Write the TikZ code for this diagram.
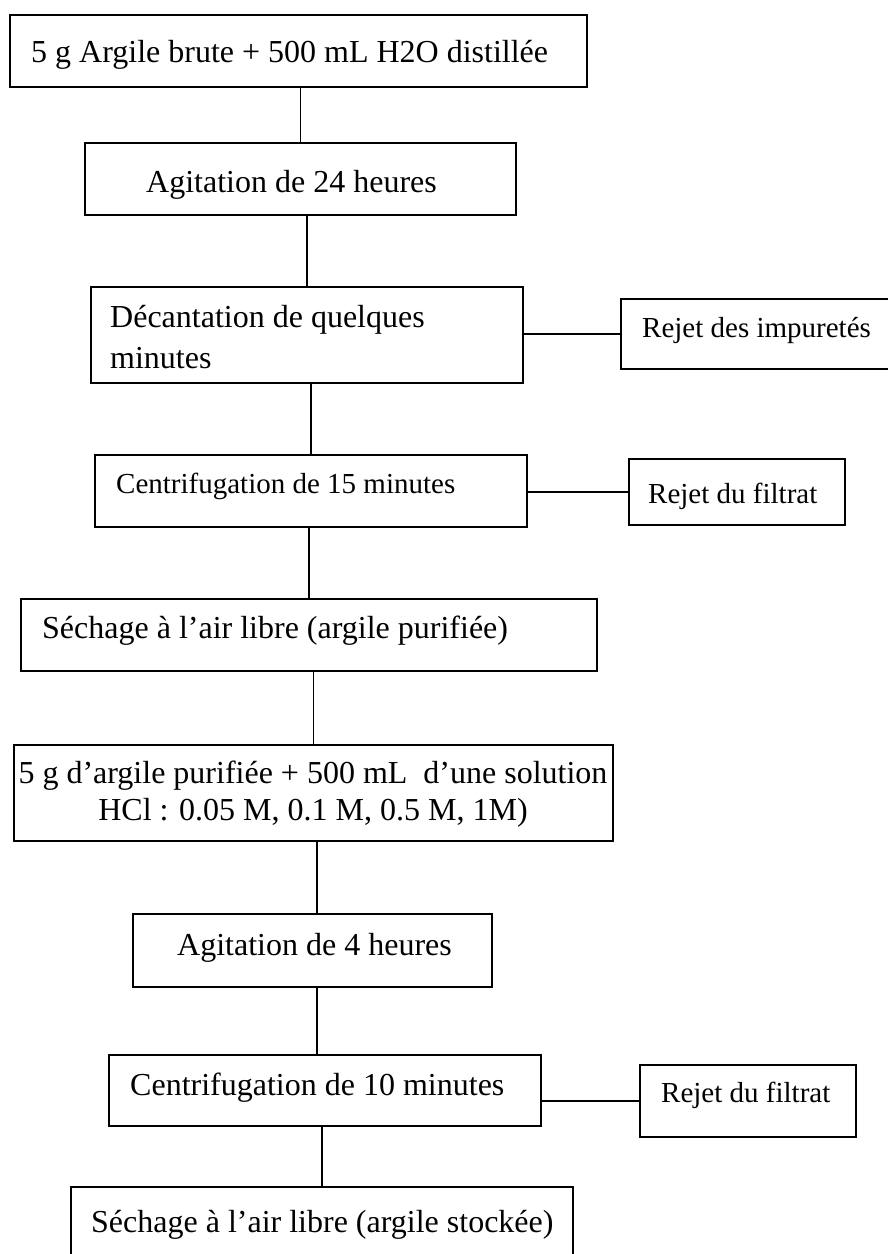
\documentclass[tikz,border=0pt]{standalone}
\usepackage{fontspec}
\setmainfont{Liberation Serif}
\begin{document}
\begin{tikzpicture}[x=1pt,y=-1pt,
  stepbox/.style={draw, line width=2.2pt, inner sep=0pt},
  big/.style={font=\fontsize{32}{41}\selectfont, inner sep=0pt, anchor=base west},
  small/.style={font=\fontsize{29}{37}\selectfont, inner sep=0pt, anchor=base west},
  link/.style={line width=1.5pt}]
\useasboundingbox (0,0) rectangle (888,1254);
\clip (0,0) rectangle (888,1254);

% main column of steps (centre, width, height)
\node[stepbox, minimum width=577pt, minimum height=72pt] (B1) at (298.5,51) {};
\node[stepbox, minimum width=431pt, minimum height=72pt] (B2) at (300.5,179) {};
\node[stepbox, minimum width=432pt, minimum height=96pt] (B3) at (307,335) {};
\node[stepbox, minimum width=432pt, minimum height=72pt] (B4) at (311,491) {};
\node[stepbox, minimum width=576pt, minimum height=72pt] (B5) at (309,635) {};
\node[stepbox, minimum width=599pt, minimum height=96pt] (B6) at (313.5,793) {};
\node[stepbox, minimum width=359pt, minimum height=73pt] (B7) at (312.5,950.5) {};
\node[stepbox, minimum width=432pt, minimum height=71pt] (B8) at (325,1090.5) {};
\node[stepbox, minimum width=502pt, minimum height=100pt] (B9) at (322,1237) {};

% side boxes for discarded fractions
\node[stepbox, minimum width=274pt, minimum height=70pt] (R1) at (758,334) {};
\node[stepbox, minimum width=216pt, minimum height=66pt] (R2) at (737,492) {};
\node[stepbox, minimum width=216pt, minimum height=72pt] (R3) at (748,1101) {};

% labels
\node[big] (T1) at (31,62) {5 g Argile brute + 500 mL H2O distillée};
\node[big] (T2) at (146,192) {Agitation de 24 heures};
\node[big] (T3a) at (110,327) {Décantation de quelques};
\node[big] (T3b) at (110,368) {minutes};
\node[small] (T4) at (116,493) {Centrifugation de 15 minutes};
\node[big] (T5) at (42,638) {Séchage à l’air libre (argile purifiée)};
\node[big, anchor=base] (T6a) at (313,783) {5 g d’argile purifiée + 500 mL\ \ d’une solution};
\node[big, anchor=base] (T6b) at (313,820) {HCl : 0.05 M, 0.1 M, 0.5 M, 1M)};
\node[big] (T7) at (177,955) {Agitation de 4 heures};
\node[big] (T8) at (130,1095) {Centrifugation de 10 minutes};
\node[big] (T9) at (91,1232) {Séchage à l’air libre (argile stockée)};
\node[small] (S1) at (642,337) {Rejet des impuretés};
\node[small] (S2) at (648,503) {Rejet du filtrat};
\node[small] (S3) at (661,1102) {Rejet du filtrat};

% vertical links
\draw[link] (B2.north) -- (B2.north |- B1.south);
\draw[link] (B3.north) -- (B3.north |- B2.south);
\draw[link] (B4.north) -- (B4.north |- B3.south);
\draw[link] (B5.north) -- (B5.north |- B4.south);
\draw[link] (B6.north) -- (B6.north |- B5.south);
\draw[link] ([xshift=4.5pt]B7.north) -- ([xshift=4.5pt]B7.north |- B6.south);
\draw[link] ([xshift=-8pt]B8.north) -- ([xshift=-8pt]B8.north |- B7.south);
\draw[link] (B9.north) -- (B9.north |- B8.south);

% horizontal links to side boxes
\draw[link] (B3.east |- R1.west) -- (R1.west);
\draw[link] (B4.east |- R2.west) -- (R2.west);
\draw[link] (B8.east |- R3.west) -- (R3.west);
\end{tikzpicture}
\end{document}
